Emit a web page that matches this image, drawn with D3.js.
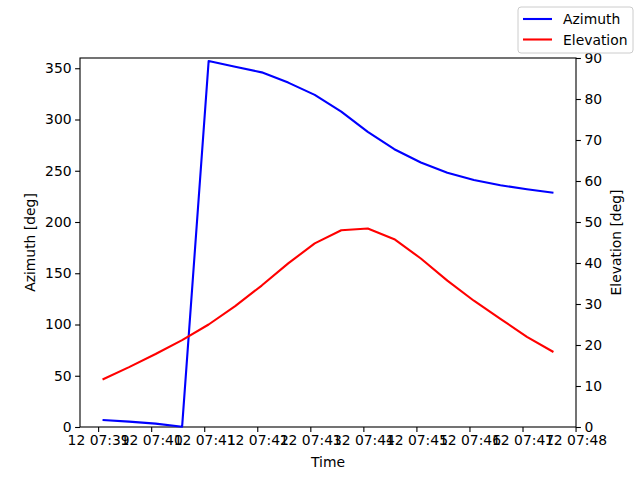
<!DOCTYPE html>
<html>
<head>
<meta charset="utf-8">
<script src="https://cdn.jsdelivr.net/npm/d3@7"></script>
<style>
body { margin: 0; background: #fff; }
text { font-family: "DejaVu Sans", sans-serif; }
</style>
</head>
<body>
<svg width="640" height="480"></svg>
<script>
var width = 640, height = 480;
var margin = {top: 58, right: 64, bottom: 53, left: 80};

// samples every 30 s starting 12th 07:39:05
var startTime = "2024-01-12T07:39:05";
var stepSec = 30;
var azimuth = [6.8, 5.2, 3.3, 0.3, 357, 351.5, 346, 336, 324, 307.6, 288, 271, 258, 248, 241, 235.8, 232, 228.6];
var elevation = [11.6, 14.6, 17.8, 21.2, 25, 29.5, 34.5, 39.9, 44.8, 48.0, 48.4, 45.8, 41.1, 35.7, 30.8, 26.4, 22.0, 18.3];
var seriesNames = ["Azimuth", "Elevation"];
var seriesColors = ["blue", "red"];
var azTicks = [0, 50, 100, 150, 200, 250, 300, 350];
var elTicks = [0, 10, 20, 30, 40, 50, 60, 70, 80, 90];

var t0 = new Date(startTime);
var times = azimuth.map(function(d, i) { return new Date(t0.getTime() + i * stepSec * 1000); });

var svg = d3.select("svg");
var w = width - margin.left - margin.right,
    h = height - margin.top - margin.bottom;

// matplotlib style 5% margin on time axis
var tmin = times[0].getTime(), tmax = times[times.length - 1].getTime();
var pad = (tmax - tmin) * 0.05;
var x = d3.scaleTime().domain([new Date(tmin - pad), new Date(tmax + pad)]).range([0, w]);
var yL = d3.scaleLinear().domain([0, 360]).range([h, 0]);
var yR = d3.scaleLinear().domain([0, 90]).range([h, 0]);

var g = svg.append("g")
    .attr("transform", "translate(" + margin.left + "," + margin.top + ")");

var xTicks = d3.timeMinute.range(new Date("2024-01-12T07:39:00"), new Date("2024-01-12T07:48:30"));

g.append("g")
    .attr("transform", "translate(0," + h + ")")
    .call(d3.axisBottom(x).tickValues(xTicks).tickFormat(d3.timeFormat("%d %H:%M")).tickSize(4.9).tickPadding(3.5));

g.append("g")
    .call(d3.axisLeft(yL).tickValues(azTicks).tickSize(4.9).tickPadding(3.5));

g.append("g")
    .attr("transform", "translate(" + w + ",0)")
    .call(d3.axisRight(yR).tickValues(elTicks).tickSize(4.9).tickPadding(3.5));

g.selectAll(".domain").remove();
g.selectAll(".tick line").attr("stroke", "#000").attr("stroke-width", 1.1);
g.selectAll(".tick text").attr("font-size", "13.9px").attr("fill", "#000")
    .style("font-family", "DejaVu Sans, sans-serif");

g.append("rect")
    .attr("width", w).attr("height", h)
    .attr("fill", "none").attr("stroke", "#000").attr("stroke-width", 1.1);

var lineAz = d3.line().x(function(d, i) { return x(times[i]); }).y(function(d) { return yL(d); });
var lineEl = d3.line().x(function(d, i) { return x(times[i]); }).y(function(d) { return yR(d); });

g.append("path").datum(azimuth)
    .attr("d", lineAz).attr("fill", "none")
    .attr("stroke", seriesColors[0]).attr("stroke-width", 2.1).attr("stroke-linejoin", "round");
g.append("path").datum(elevation)
    .attr("d", lineEl).attr("fill", "none")
    .attr("stroke", seriesColors[1]).attr("stroke-width", 2.1).attr("stroke-linejoin", "round");

// axis titles
svg.append("text").attr("x", margin.left + w / 2).attr("y", 467)
    .attr("text-anchor", "middle").attr("font-size", "13.9px").text("Time");
svg.append("text")
    .attr("transform", "translate(35," + (margin.top + h / 2) + ") rotate(-90)")
    .attr("text-anchor", "middle").attr("font-size", "13.9px").text("Azimuth [deg]");
svg.append("text")
    .attr("transform", "translate(621," + (margin.top + h / 2) + ") rotate(-90)")
    .attr("text-anchor", "middle").attr("font-size", "13.9px").text("Elevation [deg]");

// legend
var lg = svg.append("g").attr("transform", "translate(518,7)");
lg.append("rect").attr("width", 115).attr("height", 46).attr("rx", 3)
    .attr("fill", "#fff").attr("fill-opacity", 0.8).attr("stroke", "#ccc").attr("stroke-width", 1);
seriesNames.forEach(function(name, i) {
  var yy = 12 + i * 20.5;
  lg.append("line").attr("x1", 5).attr("x2", 34).attr("y1", yy).attr("y2", yy)
    .attr("stroke", seriesColors[i]).attr("stroke-width", 2.1);
  lg.append("text").attr("x", 45).attr("y", yy + 5).attr("font-size", "13.9px").text(name);
});
</script>
</body>
</html>
